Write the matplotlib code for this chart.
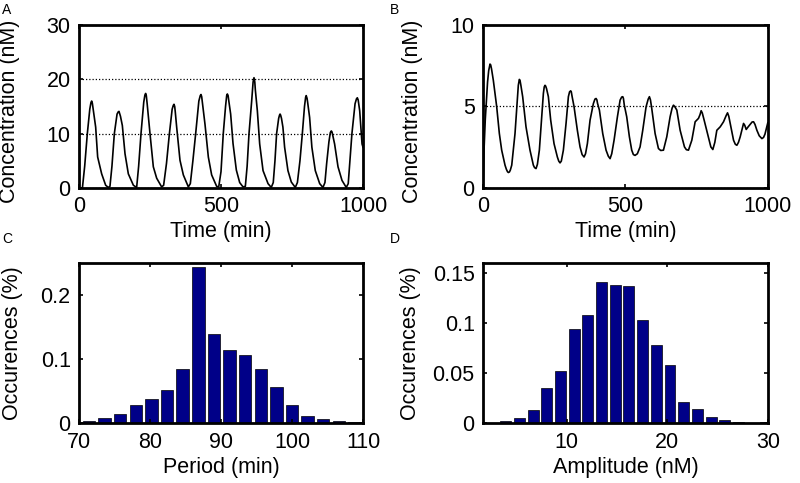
import matplotlib
matplotlib.use("Agg")
import matplotlib.pyplot as plt

plt.rcParams['font.family'] = ['Liberation Sans', 'DejaVu Sans']

# Panel A: time course (t in min, concentration in nM)
a_time = [0, 12, 20, 29.3, 38, 42, 44.6, 47, 50, 58.7, 65.7, 79.8, 93.9, 103.3,
          109, 116, 124.4, 134, 138, 140.8, 146, 152.6, 162, 173.7, 191.5, 203,
          210, 218.3, 228, 232, 234.7, 237, 240, 250, 261.7, 273.5, 291,
          298, 308, 318.3, 328, 332, 334.5, 337, 339, 343.9, 355.6, 367.4, 385,
          392, 401, 410.8, 422, 427, 429.6, 432, 435, 443.7, 455.4, 467.1, 484.7,
          492, 500, 508, 516, 520, 522.3, 525, 527, 534, 542.3, 554, 565.8, 577.5,
          585.7, 592, 598.6, 608, 613, 616.2, 619, 621, 628, 636.2, 648, 665.6, 677,
          684, 690, 695.8, 703, 706, 708, 710, 713, 718, 724, 735.7, 747.5, 761.6,
          769, 778, 786.4, 794, 798, 800, 803, 805, 812, 820, 832, 847.5, 859,
          866, 872, 880, 885, 888.4, 891, 893, 900, 912, 926, 941,
          948, 954, 961, 972, 977, 980, 983, 985, 988.4, 996.6, 1000]
a_conc = [0, 0, 4, 10, 14.5, 15.7, 16.0, 15.6, 14.5, 11.2, 5.7, 2.6, 0.5, 0.1,
          0.3, 4, 10, 13.6, 14.0, 14.1, 13.2, 11.5, 6.3, 2.6, 0.5, 0.1,
          4, 10, 15.8, 17.1, 17.4, 17.0, 15.5, 10.0, 3.9, 1.8, 0.2,
          0.5, 4.5, 10, 14.5, 15.2, 15.4, 15.0, 14, 11.2, 5.1, 2.4, 0.2,
          0.8, 5, 10, 16, 17.0, 17.2, 16.8, 15.5, 11.7, 5.7, 2.4, 0.3,
          0.2, 3, 10, 15, 17.0, 17.3, 17.0, 16.2, 13.6, 8.2, 3.3, 1.0, 0.2,
          0.3, 4, 10, 16, 19.5, 20.3, 19.5, 18, 14.2, 8.1, 3.2, 0.8, 0.1,
          1, 5, 10, 12.8, 13.4, 13.6, 13.4, 12.8, 11.2, 7.5, 3.2, 1.1, 0.1,
          1, 5, 10, 15, 16.7, 17.0, 16.5, 15.8, 13.0, 7.5, 3.2, 0.8, 0.1,
          1, 4.5, 8.5, 10.2, 10.5, 10.3, 9.8, 8.1, 3.9, 1.4, 0.1,
          0.8, 5, 10, 15.5, 16.4, 16.6, 16.2, 15.5, 14.2, 8.1, 7.5]

# Panel B: damped time course
b_time = [0, 4, 8, 16, 20, 24.6, 27, 30, 36.3, 48, 57.4, 65.6, 77.3, 82, 86,
          89, 92.7, 96, 100.9, 112.4, 120.6, 124, 127.6, 130, 133, 139.3, 151,
          165, 176.8, 181, 186.2, 191, 197.9, 206.1, 212, 215, 217.8, 220, 223,
          229.5, 237.7, 249.4, 261.1, 266, 270.5, 275, 282.2, 291.6, 299.8,
          304, 307.9, 310, 313, 319.6, 331.3, 340.7, 348, 354.8, 360, 366.5,
          375.9, 387.6, 393, 397, 400, 402, 408.7, 420.4, 432.1, 440, 446.2,
          452, 460.2, 472, 481.4, 487, 490.7, 493, 496, 504.6, 514, 522.2,
          528, 533.9, 542, 551.5, 560.9, 572.6, 580, 584.3, 588, 592.5, 604.3,
          616, 624, 633.6, 645.3, 657, 664, 668.8, 673, 680.5, 692.2, 707.4,
          714, 721.5, 733.2, 744.9, 756.6, 762, 766, 770, 776.5, 788.2, 800,
          807, 814, 821, 832.8, 844.5, 854, 858.6, 863, 870.3, 879.7, 886,
          891.4, 897, 903.1, 914.8, 919, 924.2, 931, 938.3, 945, 950, 955,
          961.7, 970, 979.3, 985, 990, 1000]
b_conc = [0, 2.5, 4.2, 6.5, 7.2, 7.6, 7.55, 7.3, 6.6, 5.0, 3.34, 2.32, 1.4, 1.15, 1.0,
          0.95, 0.98, 1.1, 1.4, 3.34, 5.39, 6.3, 6.66, 6.6, 6.3, 5.6, 3.75,
          2.32, 1.4, 1.25, 1.19, 1.45, 2.32, 4.37, 5.8, 6.2, 6.3, 6.25, 6.1,
          5.6, 4.16, 2.72, 1.9, 1.65, 1.54, 1.65, 2.32, 3.96, 5.6,
          5.9, 5.96, 5.9, 5.6, 5.0, 3.54, 2.52, 2.05, 1.9, 2.1, 2.72,
          4.16, 5.18, 5.45, 5.49, 5.4, 5.2, 4.78, 3.34, 2.32, 1.95, 1.8,
          2.1, 2.93, 4.37, 5.39, 5.58, 5.6, 5.5, 5.1, 4.37, 3.14, 2.32,
          2.05, 2.0, 2.1, 2.52, 3.54, 4.98, 5.45, 5.6, 5.4, 4.88, 3.34,
          2.42, 2.3, 2.32, 3.14, 4.37, 4.9, 5.08, 5.0, 4.78, 3.54, 2.52,
          2.35, 2.32, 2.93, 4.06, 4.27, 4.5, 4.74, 4.6, 4.16, 3.34, 2.52,
          2.36, 2.8, 3.54, 3.75, 4.06, 4.45, 4.61, 4.4, 3.75, 2.93, 2.68,
          2.62, 2.8, 3.14, 3.96, 3.85, 3.59, 3.75, 3.91, 4.05, 4.06, 3.9,
          3.54, 3.2, 3.03, 3.1, 3.3, 4.0]

# Panel C: period histogram
period_centers = [71.4, 73.6, 75.8, 78.0, 80.2, 82.4, 84.6, 86.8, 89.0, 91.2,
                  93.4, 95.6, 97.8, 100.0, 102.2, 104.4, 106.6, 108.8]
period_freq = [0.003, 0.008, 0.015, 0.029, 0.038, 0.052, 0.084, 0.244, 0.139,
               0.114, 0.107, 0.085, 0.057, 0.029, 0.011, 0.006, 0.003, 0.002]

# Panel D: amplitude histogram
amp_centers = [3.96, 5.32, 6.68, 8.04, 9.40, 10.76, 12.12, 13.48, 14.84, 16.20,
               17.56, 18.92, 20.28, 21.64, 23.00, 24.36, 25.72, 27.08, 28.44, 29.80]
amp_freq = [0.0023, 0.0056, 0.0133, 0.035, 0.052, 0.0936, 0.1075, 0.1407,
            0.1374, 0.1364, 0.1026, 0.0783, 0.0577, 0.0216, 0.0139, 0.006,
            0.0033, 0.0017, 0.0007, 0.0013]

FS = 15.5
fig = plt.figure(figsize=(8.0, 4.83), dpi=100)

def style(ax):
    for s in ax.spines.values():
        s.set_linewidth(2.0)
    ax.tick_params(direction='in', length=3, width=1.2, top=True, right=True,
                   labelsize=FS, pad=6)

axA = fig.add_axes([0.09875, 0.6108, 0.355, 0.3375])
axB = fig.add_axes([0.60375, 0.6108, 0.356, 0.3375])
axC = fig.add_axes([0.09875, 0.1236, 0.355, 0.3325])
axD = fig.add_axes([0.60375, 0.1236, 0.356, 0.3325])

gridstyle = dict(color='black', linestyle=(0, (1, 1.6)), linewidth=0.9)

# A
axA.plot(a_time, a_conc, color='black', linewidth=1.2)
axA.set_xlim(0, 1000)
axA.set_ylim(0, 30)
axA.set_xticks([0, 500, 1000])
axA.set_yticks([0, 10, 20, 30])
axA.yaxis.grid(True, **gridstyle)
axA.set_axisbelow(True)
style(axA)
axA.set_xlabel('Time (min)', fontsize=FS, va='center')
axA.xaxis.set_label_coords(0.5, -0.265)
axA.set_ylabel('Concentration (nM)', fontsize=FS, va='center')
axA.yaxis.set_label_coords(-0.243, 0.47)

# B
axB.plot(b_time, b_conc, color='black', linewidth=1.2)
axB.set_xlim(0, 1000)
axB.set_ylim(0, 10)
axB.set_xticks([0, 500, 1000])
axB.set_yticks([0, 5, 10])
axB.yaxis.grid(True, **gridstyle)
axB.set_axisbelow(True)
style(axB)
axB.set_xlabel('Time (min)', fontsize=FS, va='center')
axB.xaxis.set_label_coords(0.5, -0.265)
axB.set_ylabel('Concentration (nM)', fontsize=FS, va='center')
axB.yaxis.set_label_coords(-0.246, 0.47)

# C
barcolor = '#000088'
axC.bar(period_centers, period_freq, width=2.2 * 0.8, color=barcolor,
        edgecolor='black', linewidth=0.5)
axC.set_xlim(70, 110)
axC.set_ylim(0, 0.25)
axC.set_xticks([70, 80, 90, 100, 110])
axC.set_yticks([0, 0.1, 0.2])
axC.set_yticklabels(['0', '0.1', '0.2'])
style(axC)
axC.set_xlabel('Period (min)', fontsize=FS, va='center')
axC.xaxis.set_label_coords(0.5, -0.278)
axC.set_ylabel('Occurences (%)', fontsize=FS, va='center')
axC.yaxis.set_label_coords(-0.234, 0.5)

# D
axD.bar(amp_centers, amp_freq, width=1.36 * 0.8, color=barcolor,
        edgecolor='black', linewidth=0.5)
axD.set_xlim(1.7, 30)
axD.set_ylim(0, 0.16)
axD.set_xticks([10, 20, 30])
axD.set_yticks([0, 0.05, 0.1, 0.15])
axD.set_yticklabels(['0', '0.05', '0.1', '0.15'])
style(axD)
axD.set_xlabel('Amplitude (nM)', fontsize=FS, va='center')
axD.xaxis.set_label_coords(0.5, -0.278)
axD.set_ylabel('Occurences (%)', fontsize=FS, va='center')
axD.yaxis.set_label_coords(-0.256, 0.5)

# panel letters
for x, y, s in [(2, 3, 'A'), (390, 3, 'B'), (2, 232, 'C'), (390, 232, 'D')]:
    fig.text(x / 800, 1 - y / 483, s, fontsize=10, ha='left', va='top')

fig.savefig('out.png', dpi=100)
